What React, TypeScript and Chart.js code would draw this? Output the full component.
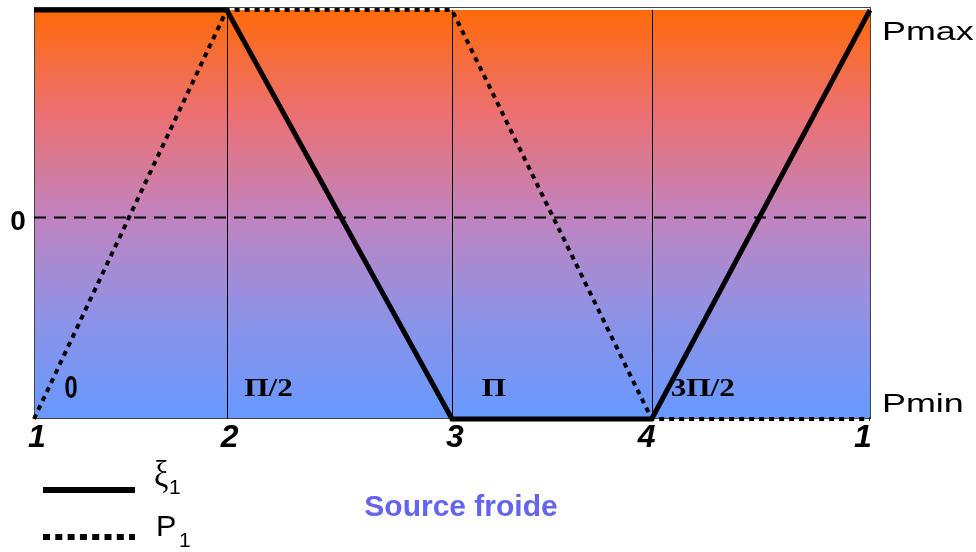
import React, { useEffect, useRef } from "react";
import { Chart, registerables } from "chart.js";

Chart.register(...registerables);

// Cycle stations (phase angle, degrees) and their labels
const stations = [0, 83, 180, 266, 360];
const stationLabels = ["1", "2", "3", "4", "1"];

// Pressure levels on a normalised scale (zero sits just below mid-range)
const PMAX = 1;
const PMIN = -0.97;
const xi1 = [PMAX, PMAX, PMIN, PMIN, PMAX];
const p1 = [PMIN, PMAX, PMAX, PMIN, PMIN];

// Phase labels inside each segment (angle of label centre)
const phaseLabels = ["0", "Π/2", "Π", "3Π/2"];
const phaseAt = [16, 101, 198, 288];

const levelLabels = ["Pmax", "0", "Pmin"];
const seriesNames = ["ξ", "P"];
const bottomTitle = "Source froide";

const SANS = '"Liberation Sans", Arial, sans-serif';
const SERIF = '"Liberation Serif", "Times New Roman", serif';

function drawStretched(
  ctx: CanvasRenderingContext2D,
  text: string,
  x: number,
  y: number,
  font: string,
  align: CanvasTextAlign,
  sx = 1,
  color = "#000"
) {
  ctx.save();
  ctx.font = font;
  ctx.fillStyle = color;
  ctx.textBaseline = "middle";
  ctx.textAlign = align;
  ctx.translate(x, y);
  ctx.scale(sx, 1);
  ctx.fillText(text, 0, 0);
  ctx.restore();
}

const backdrop = {
  id: "backdrop",
  beforeDatasetsDraw(chart: any) {
    const { ctx, chartArea: a, scales } = chart;
    const xs = scales.x;
    const ys = scales.y;
    ctx.save();
    const g = ctx.createLinearGradient(0, a.top, 0, a.bottom);
    g.addColorStop(0, "#FF6A0A");
    g.addColorStop(0.25, "#EC7070");
    g.addColorStop(0.5, "#C283BE");
    g.addColorStop(0.75, "#8E92E6");
    g.addColorStop(1, "#6699FF");
    ctx.fillStyle = g;
    ctx.fillRect(a.left, a.top, a.right - a.left, a.bottom - a.top);

    // thin frame
    ctx.strokeStyle = "#444";
    ctx.lineWidth = 1;
    ctx.strokeRect(a.left + 0.5, a.top - 2.5, a.right - a.left, a.bottom - a.top + 2);

    // station dividers
    ctx.strokeStyle = "#000";
    for (let i = 1; i < stations.length - 1; i++) {
      const px = Math.round(xs.getPixelForValue(stations[i])) + 0.5;
      ctx.beginPath();
      ctx.moveTo(px, a.top);
      ctx.lineTo(px, a.bottom);
      ctx.stroke();
    }

    // zero line
    const y0 = ys.getPixelForValue(0);
    ctx.setLineDash([12, 8]);
    ctx.lineWidth = 2;
    ctx.beginPath();
    ctx.moveTo(a.left, y0);
    ctx.lineTo(a.right, y0);
    ctx.stroke();
    ctx.setLineDash([]);

    // phase labels
    phaseLabels.forEach((t, i) => {
      const px = xs.getPixelForValue(phaseAt[i]);
      const isZero = t === "0";
      drawStretched(
        ctx,
        t,
        px,
        a.bottom - 30,
        isZero ? `bold 32px ${SANS}` : `bold 26px ${SERIF}`,
        "center",
        isZero ? 0.74 : 1.2
      );
    });
    ctx.restore();
  },
  afterDraw(chart: any) {
    const { ctx, chartArea: a, scales } = chart;
    const xs = scales.x;
    const ys = scales.y;

    // station numbers under the axis
    stationLabels.forEach((t, i) => {
      let px = xs.getPixelForValue(stations[i]);
      if (i === 0) px += 3;
      else if (i === stationLabels.length - 1) px -= 7;
      else if (i === 3) px -= 5;
      else px += 3;
      drawStretched(ctx, t, px, a.bottom + 19, `italic 900 32px ${SANS}`, "center");
    });

    // level labels
    drawStretched(ctx, levelLabels[0], a.right + 12, ys.getPixelForValue(PMAX) + 23, `26px ${SANS}`, "left", 1.38);
    drawStretched(ctx, levelLabels[1], 18, ys.getPixelForValue(0) + 5, `bold 28px ${SANS}`, "center", 1);
    drawStretched(ctx, levelLabels[2], a.right + 12, ys.getPixelForValue(PMIN) - 14, `26px ${SANS}`, "left", 1.38);

    // legend
    ctx.save();
    ctx.strokeStyle = "#000";
    ctx.lineCap = "butt";
    ctx.lineWidth = 6;
    ctx.beginPath();
    ctx.moveTo(43, 490);
    ctx.lineTo(135, 490);
    ctx.stroke();
    ctx.lineWidth = 6;
    ctx.setLineDash([7, 5.3]);
    ctx.beginPath();
    ctx.moveTo(43, 537);
    ctx.lineTo(135, 537);
    ctx.stroke();
    ctx.restore();

    drawStretched(ctx, seriesNames[0], 154, 477, `38px ${SERIF}`, "left", 0.85);
    drawStretched(ctx, "1", 169, 488, `21px ${SANS}`, "left");
    drawStretched(ctx, seriesNames[1], 156, 528, `29px ${SANS}`, "left", 1.05);
    drawStretched(ctx, "1", 179, 541, `21px ${SANS}`, "left");

    drawStretched(ctx, bottomTitle, 461, 508, `bold 30px ${SANS}`, "center", 1, "#6464F0");
  },
};

export default function App() {
  const ref = useRef<HTMLCanvasElement>(null);

  useEffect(() => {
    document.body.style.margin = "0";
    const canvas = ref.current;
    if (!canvas) return;
    const chart = new Chart(canvas, {
      type: "line",
      data: {
        datasets: [
          {
            label: "P1",
            data: stations.map((x, i) => ({ x, y: p1[i] })),
            borderColor: "#000",
            borderWidth: 4,
            borderDash: [5, 5],
            borderCapStyle: "butt",
            pointRadius: 0,
            fill: false,
            tension: 0,
            clip: false,
          },
          {
            label: "ξ1",
            data: stations.map((x, i) => ({ x, y: xi1[i] })),
            borderColor: "#000",
            borderWidth: 5,
            borderJoinStyle: "miter",
            pointRadius: 0,
            fill: false,
            tension: 0,
            clip: false,
          },
        ],
      },
      options: {
        responsive: false,
        animation: false,
        layout: { padding: { left: 34, right: 106, top: 10, bottom: 133 } },
        plugins: { legend: { display: false }, tooltip: { enabled: false } },
        scales: {
          x: { type: "linear", min: 0, max: 360, display: false },
          y: { type: "linear", min: PMIN, max: PMAX, display: false },
        },
      } as any,
      plugins: [backdrop],
    });
    return () => chart.destroy();
  }, []);

  return <canvas ref={ref} width={976} height={552} />;
}
